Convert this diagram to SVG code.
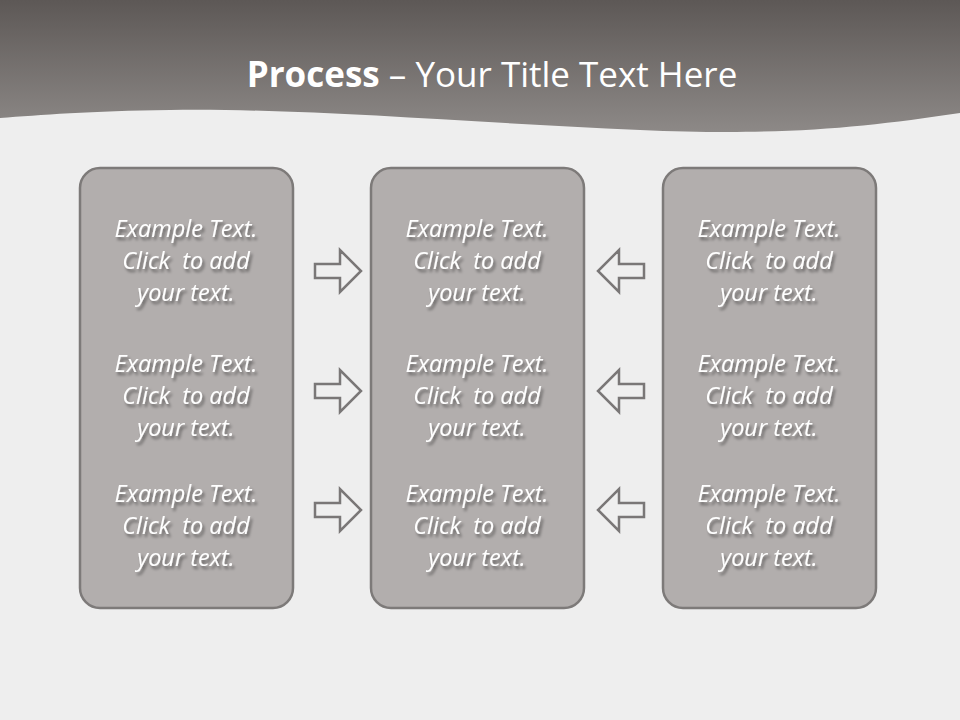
<svg xmlns="http://www.w3.org/2000/svg" width="960" height="720" viewBox="0 0 960 720">
<defs>
<linearGradient id="hdr" x1="0" y1="0" x2="0" y2="1">
<stop offset="0" stop-color="#5d5856"/>
<stop offset="1" stop-color="#8d8987"/>
</linearGradient>
<filter id="sh" x="-20%" y="-20%" width="140%" height="160%">
<feDropShadow dx="2" dy="3" stdDeviation="1.6" flood-color="#000" flood-opacity="0.45"/>
</filter>
<style>
.box{fill:#b2aead;stroke:#7d7a79;stroke-width:2.5}
.arr{fill:#efefef;stroke:#7a7777;stroke-width:2.5;stroke-linejoin:miter}
.t{font-family:"Open Sans","Liberation Sans",sans-serif;font-style:italic;font-size:23.5px;fill:#ffffff;text-anchor:middle;filter:url(#sh);white-space:pre}
.title{font-family:"Open Sans","Liberation Sans",sans-serif;font-size:35px;fill:#ffffff;text-anchor:middle}
</style>
</defs>
<rect width="960" height="720" fill="#eeeeee"/>
<path d="M0,0 H960 V113 C860,128 780,136 640,130 C460,122 300,108 170,110 C90,111 40,115 0,118 Z" fill="url(#hdr)"/>
<text class="title" x="492" y="87"><tspan font-weight="bold">Process</tspan> – Your Title Text Here</text>
<g id="box-left">
<rect class="box" x="80" y="168" width="213" height="440" rx="20"/>
</g>
<g id="box-middle">
<rect class="box" x="371" y="168" width="213" height="440" rx="20"/>
</g>
<g id="box-right">
<rect class="box" x="663" y="168" width="213" height="440" rx="20"/>
</g>
<g id="texts" xml:space="preserve">
<text class="t" x="186" y="237">Example Text.</text>
<text class="t" x="186" y="269">Click  to add</text>
<text class="t" x="186" y="301">your text.</text>
<text class="t" x="186" y="372">Example Text.</text>
<text class="t" x="186" y="404">Click  to add</text>
<text class="t" x="186" y="436">your text.</text>
<text class="t" x="186" y="502">Example Text.</text>
<text class="t" x="186" y="534">Click  to add</text>
<text class="t" x="186" y="566">your text.</text>
<text class="t" x="477" y="237">Example Text.</text>
<text class="t" x="477" y="269">Click  to add</text>
<text class="t" x="477" y="301">your text.</text>
<text class="t" x="477" y="372">Example Text.</text>
<text class="t" x="477" y="404">Click  to add</text>
<text class="t" x="477" y="436">your text.</text>
<text class="t" x="477" y="502">Example Text.</text>
<text class="t" x="477" y="534">Click  to add</text>
<text class="t" x="477" y="566">your text.</text>
<text class="t" x="769" y="237">Example Text.</text>
<text class="t" x="769" y="269">Click  to add</text>
<text class="t" x="769" y="301">your text.</text>
<text class="t" x="769" y="372">Example Text.</text>
<text class="t" x="769" y="404">Click  to add</text>
<text class="t" x="769" y="436">your text.</text>
<text class="t" x="769" y="502">Example Text.</text>
<text class="t" x="769" y="534">Click  to add</text>
<text class="t" x="769" y="566">your text.</text>
</g>
<g id="connectors">
<path class="arr" d="M315,264 H340 V250 L361,271 L340,292 V278 H315 Z"/>
<path class="arr" d="M315,384 H340 V370 L361,391 L340,412 V398 H315 Z"/>
<path class="arr" d="M315,503 H340 V489 L361,510 L340,531 V517 H315 Z"/>
<path class="arr" d="M644,264 H619 V250 L598,271 L619,292 V278 H644 Z"/>
<path class="arr" d="M644,384 H619 V370 L598,391 L619,412 V398 H644 Z"/>
<path class="arr" d="M644,503 H619 V489 L598,510 L619,531 V517 H644 Z"/>
</g>
</svg>
